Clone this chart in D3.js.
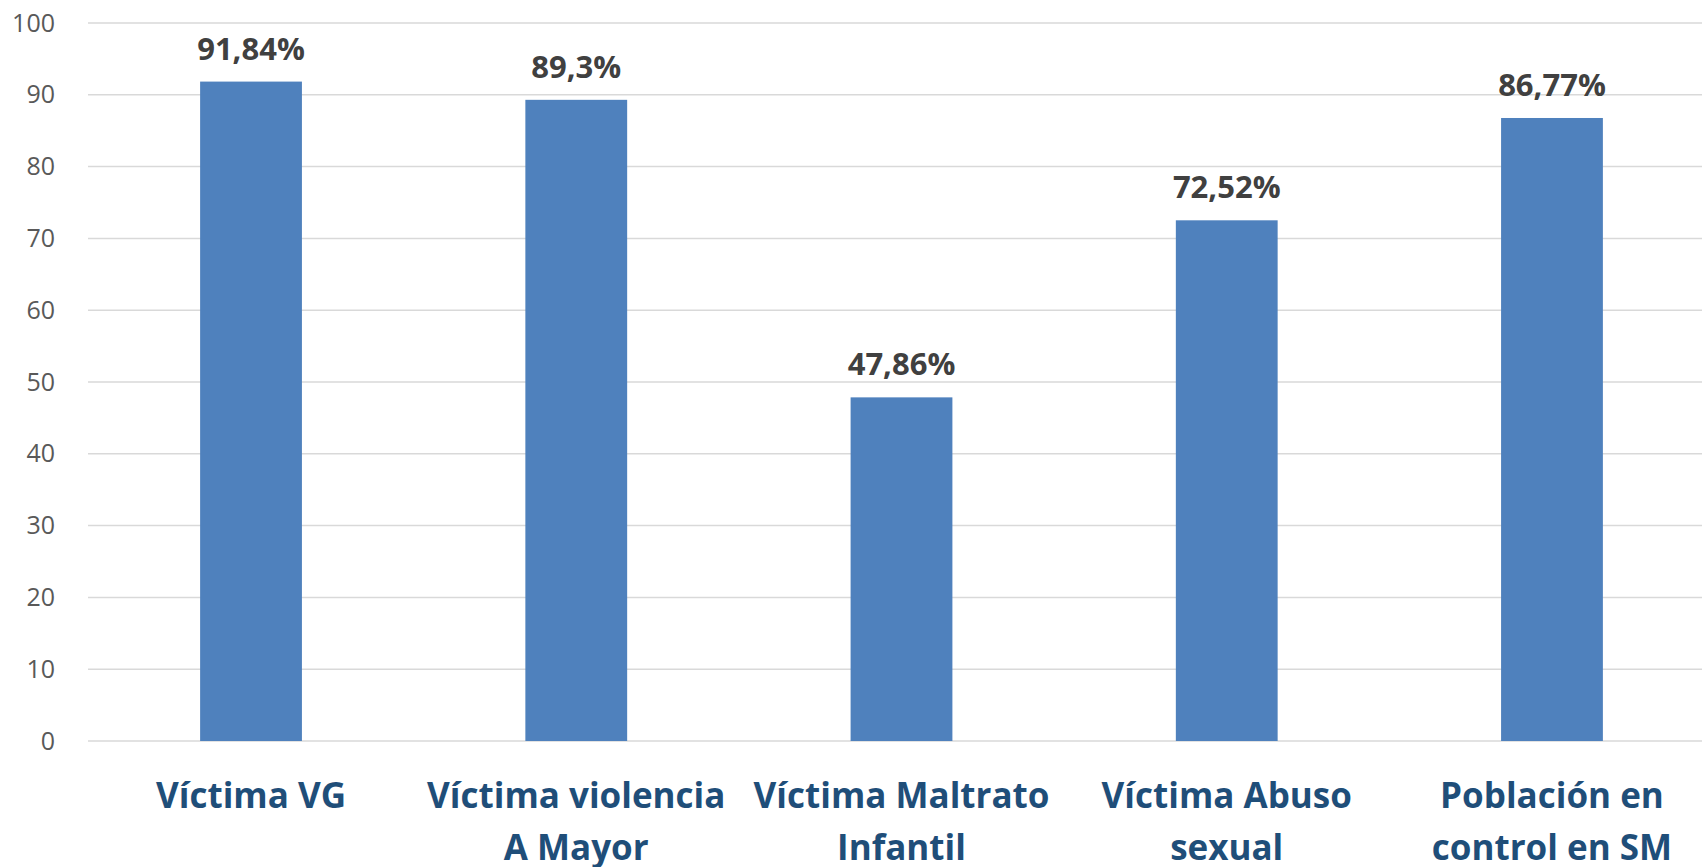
<!DOCTYPE html>
<html>
<head>
<meta charset="utf-8">
<script src="https://cdn.jsdelivr.net/npm/d3@7"></script>
<style>
  html, body { margin: 0; padding: 0; background: #fff; }
  svg { display: block; }
</style>
</head>
<body>
<svg id="chart" width="1702" height="867"></svg>
<script>
// Categories (each split into display lines) and values in percent
const categories = [
  ["Víctima VG"],
  ["Víctima violencia", "A Mayor"],
  ["Víctima Maltrato", "Infantil"],
  ["Víctima Abuso", "sexual"],
  ["Población en", "control en SM"]
];
const values = [91.84, 89.3, 47.86, 72.52, 86.77];
const valueLabels = ["91,84%", "89,3%", "47,86%", "72,52%", "86,77%"];
const yTicks = [0, 10, 20, 30, 40, 50, 60, 70, 80, 90, 100];

const svg = d3.select("#chart");
const W = 1702;

const y = d3.scaleLinear().domain([0, 100]).range([741, 23]);
const pad = 0.687;
const x = d3.scaleBand()
  .domain(d3.range(categories.length))
  .range([88.4, 1714.6])
  .paddingInner(pad)
  .paddingOuter(pad / 2);

// Horizontal gridlines
svg.append("g")
  .selectAll("line")
  .data(yTicks)
  .join("line")
  .attr("x1", 88)
  .attr("x2", W)
  .attr("y1", d => y(d))
  .attr("y2", d => y(d))
  .attr("stroke", "#d9d9d9")
  .attr("stroke-width", 1.5);

// Y axis labels
const yAxis = d3.axisLeft(y).tickValues(yTicks).tickSize(0).tickPadding(0);
const gy = svg.append("g").attr("transform", "translate(55,0)").call(yAxis);
gy.select(".domain").remove();
gy.selectAll("text")
  .attr("font-family", "'Open Sans', sans-serif")
  .attr("font-size", 25)
  .attr("fill", "#595959");

// Bars
svg.append("g")
  .selectAll("rect")
  .data(values)
  .join("rect")
  .attr("x", (d, i) => x(i))
  .attr("width", x.bandwidth())
  .attr("y", d => y(d))
  .attr("height", d => y(0) - y(d))
  .attr("fill", "#4f81bd");

// Value labels above bars
svg.append("g")
  .selectAll("text")
  .data(values)
  .join("text")
  .attr("x", (d, i) => x(i) + x.bandwidth() / 2)
  .attr("y", d => y(d) - 22)
  .attr("text-anchor", "middle")
  .attr("font-family", "'Open Sans', sans-serif")
  .attr("font-weight", "bold")
  .attr("font-size", 31)
  .attr("fill", "#404040")
  .text((d, i) => valueLabels[i]);

// Category labels
const cat = svg.append("g")
  .selectAll("text")
  .data(categories)
  .join("text")
  .attr("text-anchor", "middle")
  .attr("font-family", "'Open Sans', sans-serif")
  .attr("font-weight", "bold")
  .attr("font-size", 35)
  .attr("fill", "#1f4e79");
cat.each(function (lines, i) {
  const t = d3.select(this);
  lines.forEach((ln, j) => {
    t.append("tspan")
      .attr("x", x(i) + x.bandwidth() / 2)
      .attr("y", 808 + j * 52)
      .text(ln);
  });
});
</script>
</body>
</html>
